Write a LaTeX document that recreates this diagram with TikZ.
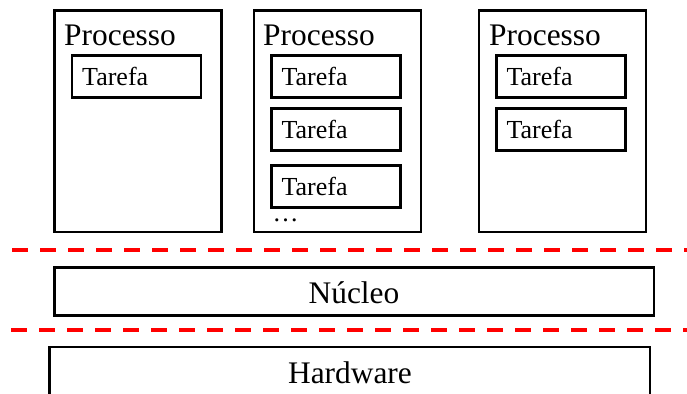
\documentclass[tikz,border=0pt]{standalone}
\usepackage{fontspec}
\setmainfont{Liberation Serif}
\begin{document}
\begin{tikzpicture}[x=1pt,y=-1pt,
  procbox/.style={draw, line width=2.8pt, inner sep=0pt, outer sep=0pt,
    anchor=north west, minimum width=167pt, minimum height=221.3pt},
  taskbox/.style={draw, line width=2.8pt, inner sep=0pt, outer sep=0pt,
    anchor=north west, minimum width=129pt, minimum height=42pt},
  layerbox/.style={draw, line width=2.8pt, inner sep=0pt, outer sep=0pt,
    anchor=north west, minimum width=600pt, minimum height=48pt},
  bigtxt/.style={inner sep=0pt, font=\rmfamily\fontsize{31.4}{36}\selectfont},
  smalltxt/.style={inner sep=0pt, anchor=base west, font=\rmfamily\fontsize{26}{30}\selectfont},
  sep/.style={draw=red, line width=4pt, dash pattern=on 16pt off 12pt}
]
\useasboundingbox (0,0) rectangle (687,393);

% process boxes
\node[procbox] (p1) at (54.7,10.7) {};
\node[procbox] (p2) at (254,10.7) {};
\node[procbox] (p3) at (479,10.7) {};

\node[bigtxt, anchor=base west] (p1t) at (64,46) {Processo};
\node[bigtxt, anchor=base west] (p2t) at (263,45.5) {Processo};
\node[bigtxt, anchor=base west] (p3t) at (489,45.5) {Processo};

% tasks
\node[taskbox] (t11) at (72,55.3) {};
\node[smalltxt] (t11t) at (82,85.3) {Tarefa};

\node[taskbox] (t21) at (271.3,55.3) {};
\node[smalltxt] (t21t) at (281.3,85.3) {Tarefa};
\node[taskbox] (t22) at (271.3,108.7) {};
\node[smalltxt] (t22t) at (281.3,138.5) {Tarefa};
\node[taskbox, minimum height=41.6pt] (t23) at (271.3,165.7) {};
\node[smalltxt] (t23t) at (281.3,195.5) {Tarefa};
\node[smalltxt] (dots) at (272.5,221) {…};

\node[taskbox] (t31) at (496.3,55.3) {};
\node[smalltxt] (t31t) at (506.3,85.3) {Tarefa};
\node[taskbox] (t32) at (496.3,108.7) {};
\node[smalltxt] (t32t) at (506.3,138.5) {Tarefa};

% separators
\coordinate (s1a) at (12,250);
\coordinate (s1b) at (690,250);
\coordinate (s2a) at (11,330);
\coordinate (s2b) at (690,330);
\draw[sep] (s1a) -- (s1b);
\draw[sep] (s2a) -- (s2b);

% kernel and hardware layers
\node[layerbox, minimum width=599.3pt] (kern) at (54.7,267.3) {};
\node[bigtxt, anchor=base] (kernt) at (354,303) {Núcleo};
\node[layerbox, minimum width=600.3pt, minimum height=52pt] (hw) at (49.7,347) {};
\node[bigtxt, anchor=base] (hwt) at (350,383) {Hardware};
\end{tikzpicture}
\end{document}
